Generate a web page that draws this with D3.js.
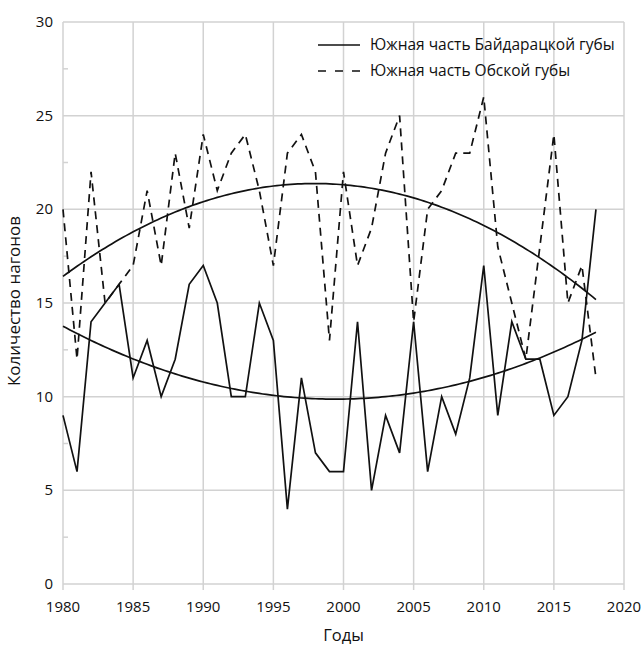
<!DOCTYPE html>
<html>
<head>
<meta charset="utf-8">
<script src="https://cdn.jsdelivr.net/npm/d3@7"></script>
<style>
  body { margin: 0; background: #fff; }
  svg text { font-family: "Open Sans", "Noto Sans", sans-serif; fill: #111; }
</style>
</head>
<body>
<div id="chart"></div>
<script>
var years = d3.range(1980, 2019),
    baidaratskaya = [9, 6, 14, 15, 16, 11, 13, 10, 12, 16, 17, 15, 10, 10, 15, 13, 4, 11, 7, 6,
        6, 14, 5, 9, 7, 14, 6, 10, 8, 11, 17, 9, 14, 12, 12, 9, 10, 13, 20],
    obskaya = [20, 12, 22, 15, 16, 17, 21, 17, 23, 19, 24, 21, 23, 24, 21, 17, 23, 24, 22, 13,
        22, 17, 19, 23, 25, 14, 20, 21, 23, 23, 26, 18, 15, 12, 18, 24, 15, 17, 11],
    seriesNames = ['Южная часть Байдарацкой губы', 'Южная часть Обской губы'],
    xTicks = [1980, 1985, 1990, 1995, 2000, 2005, 2010, 2015, 2020],
    yTicks = [0, 5, 10, 15, 20, 25, 30];

var width = 644, height = 646,
    margin = { top: 22, right: 20, bottom: 62, left: 63 };

var svg = d3.select('#chart').append('svg')
    .attr('width', width)
    .attr('height', height);

var x = d3.scaleLinear().domain([1980, 2020]).range([margin.left, width - margin.right]);
var y = d3.scaleLinear().domain([0, 30]).range([height - margin.bottom, margin.top]);

// Grid
var grid = svg.append('g').attr('stroke', '#d2d2d2').attr('stroke-width', 1.5);
grid.selectAll('.h').data(yTicks).enter().append('line')
    .attr('x1', x(1980)).attr('x2', x(2020))
    .attr('y1', d => y(d)).attr('y2', d => y(d));
grid.selectAll('.v').data(xTicks).enter().append('line')
    .attr('x1', d => x(d)).attr('x2', d => x(d))
    .attr('y1', y(0)).attr('y2', y(30));
// x ticks below axis
grid.selectAll('.xt').data(xTicks).enter().append('line')
    .attr('x1', d => x(d)).attr('x2', d => x(d))
    .attr('y1', y(0)).attr('y2', y(0) + 6);
// y minor ticks
grid.selectAll('.ym').data(d3.range(2.5, 30, 5)).enter().append('line')
    .attr('x1', x(1980)).attr('x2', x(1980) + 5)
    .attr('y1', d => y(d)).attr('y2', d => y(d));

// Tick labels
svg.append('g').selectAll('text').data(yTicks).enter().append('text')
    .attr('x', x(1980) - 10).attr('y', d => y(d) + 5)
    .attr('text-anchor', 'end').attr('font-size', 15)
    .text(d => d);
svg.append('g').selectAll('text').data(xTicks).enter().append('text')
    .attr('x', d => x(d)).attr('y', y(0) + 28)
    .attr('text-anchor', 'middle').attr('font-size', 15)
    .text(d => d);

svg.append('text')
    .attr('x', (x(1980) + x(2020)) / 2).attr('y', height - 5)
    .attr('text-anchor', 'middle').attr('font-size', 16.5)
    .text('Годы');
svg.append('text')
    .attr('transform', 'translate(20,' + (y(15) - 2) + ') rotate(-90)')
    .attr('text-anchor', 'middle').attr('font-size', 17)
    .text('Количество нагонов');

// Quadratic trend (least squares)
function quadFit(xs, ys) {
    let s = [0, 0, 0, 0, 0], t = [0, 0, 0];
    xs.forEach((xv, i) => {
        let p = 1;
        for (let k = 0; k < 5; k++) { s[k] += p; if (k < 3) t[k] += p * ys[i]; p *= xv; }
    });
    let m = [[s[0], s[1], s[2], t[0]], [s[1], s[2], s[3], t[1]], [s[2], s[3], s[4], t[2]]];
    for (let i = 0; i < 3; i++) {
        for (let j = i + 1; j < 3; j++) {
            let f = m[j][i] / m[i][i];
            for (let k = i; k < 4; k++) m[j][k] -= f * m[i][k];
        }
    }
    let c = [0, 0, 0];
    for (let i = 2; i >= 0; i--) {
        let v = m[i][3];
        for (let k = i + 1; k < 3; k++) v -= m[i][k] * c[k];
        c[i] = v / m[i][i];
    }
    return xv => c[0] + c[1] * xv + c[2] * xv * xv;
}

var line = d3.line().x(d => x(d[0])).y(d => y(d[1]));
var idx = years.map(d => d - 1980);

[baidaratskaya, obskaya].forEach((vals, i) => {
    svg.append('path')
        .datum(years.map((yr, j) => [yr, vals[j]]))
        .attr('d', line)
        .attr('fill', 'none')
        .attr('stroke', '#111')
        .attr('stroke-width', 1.7)
        .attr('stroke-dasharray', i ? '8,6' : null);

    let f = quadFit(idx, vals);
    svg.append('path')
        .datum(d3.range(1980, 2018.01, 0.25).map(yr => [yr, f(yr - 1980)]))
        .attr('d', line)
        .attr('fill', 'none')
        .attr('stroke', '#111')
        .attr('stroke-width', 1.7);
});

// Legend
var legend = svg.append('g');
seriesNames.forEach((name, i) => {
    let ly = 45 + i * 26;
    legend.append('line')
        .attr('x1', 318).attr('x2', 360)
        .attr('y1', ly).attr('y2', ly)
        .attr('stroke', '#111').attr('stroke-width', 1.7)
        .attr('stroke-dasharray', i ? '8,9' : null);
    legend.append('text')
        .attr('x', 370).attr('y', ly + 5)
        .attr('font-size', 15.5)
        .text(name);
});
</script>
</body>
</html>
